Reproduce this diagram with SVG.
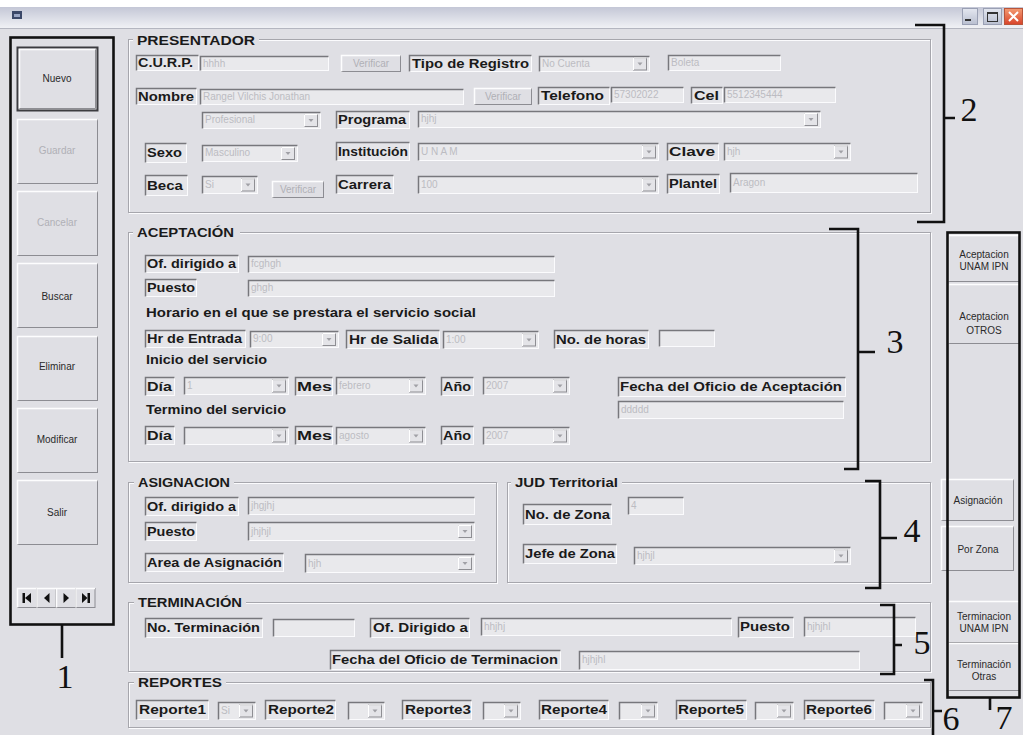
<svg xmlns="http://www.w3.org/2000/svg" width="1023" height="735" viewBox="0 0 1023 735">
<defs>
<style>
.bg{fill:#dfdfe4}
.gb{fill:none;stroke:#a6a6ac}
.gw{fill:none;stroke:#fbfbfd}
.lb{fill:#e5e5e9;stroke:#fbfbfd}
.fd{fill:#e9e9ec;stroke:#fbfbfd}
.sk{fill:none;stroke:#77777c;stroke-width:1.5}
.bn{fill:#dfdfe4;stroke:#8c8c92}
.hl{fill:none;stroke:#fdfdfe;stroke-width:1.5}
.t{font-family:"Liberation Sans",Arial,sans-serif;font-weight:bold;font-size:13.5px;fill:#1a1a1a}
.v{font-family:"Liberation Sans",Arial,sans-serif;font-size:10px;fill:#bcbcc2}
.b{font-family:"Liberation Sans",Arial,sans-serif;font-size:10px;fill:#2a2a2a;text-anchor:middle}
.d{fill:#b0b0b6}
.br{fill:none;stroke:#111;stroke-width:2.6}
.n{font-family:"Liberation Serif","DejaVu Serif",serif;font-size:34px;fill:#111;text-anchor:middle}
.nv{fill:#111}
</style>
<linearGradient id="tb" x1="0" y1="0" x2="0" y2="1"><stop offset="0" stop-color="#c4c7d6"/><stop offset="1" stop-color="#f0f1f5"/></linearGradient>
<linearGradient id="wb" x1="0" y1="0" x2="0" y2="1"><stop offset="0" stop-color="#e4e7f0"/><stop offset="1" stop-color="#b9bfd0"/></linearGradient>
<linearGradient id="cx" x1="0" y1="0" x2="0" y2="1"><stop offset="0" stop-color="#f39a72"/><stop offset="1" stop-color="#d8432a"/></linearGradient>
<g id="dd"><rect x=".5" y=".5" width="13" height="12" fill="#e4e4e8" stroke="#8e8e93"/><path d="M.5 12.5V.5H13.5" fill="none" stroke="#fff"/><path d="M4.5 5h5l-2.5 3z" fill="#a0a0a6"/></g>
</defs>

<rect class="bg" width="1023" height="735"/>
<g id="titlebar">
<rect width="1023" height="7" fill="#fff"/>
<rect y="7" width="1023" height="21" fill="url(#tb)"/>
<line x1="0" y1="28.5" x2="1023" y2="28.5" stroke="#b4b6c0"/>
<rect x="12" y="11" width="10" height="8" fill="#3b4868"/><rect x="14" y="14" width="6" height="3" fill="#9aa6c4"/>
<rect x="962.5" y="8.5" width="15" height="16" fill="url(#wb)" stroke="#9aa0b4"/><rect x="965" y="19" width="6" height="2" fill="#333"/>
<rect x="983.5" y="8.5" width="18" height="16" fill="url(#wb)" stroke="#9aa0b4"/><rect x="987.5" y="12.5" width="10" height="9" fill="none" stroke="#333"/><rect x="987" y="12" width="11" height="2" fill="#333"/>
<rect x="1004.5" y="8.5" width="18" height="16" fill="url(#cx)" stroke="#b8553a"/><path d="M1009 12l9 9M1018 12l-9 9" stroke="#fff" stroke-width="2"/>
</g>

<g id="toolbar-left">
<rect x="17.5" y="47.5" width="80" height="63" fill="#dfdfe4" stroke="#3c3c40" stroke-width="2"/><path class="hl" d="M19.5 108.5V49.5H95.5"/><path d="M95.5 49.5V108.5H19.5" fill="none" stroke="#8e8e93"/><text class="b" x="57" y="82">Nuevo</text>
<rect class="bn" x="17.5" y="119.5" width="80" height="64"/><path class="hl" d="M17.5 183.5V119.5H97.5"/><text class="b d" x="57" y="154">Guardar</text>
<rect class="bn" x="17.5" y="191.5" width="80" height="64"/><path class="hl" d="M17.5 255.5V191.5H97.5"/><text class="b d" x="57" y="226">Cancelar</text>
<rect class="bn" x="17.5" y="263.5" width="80" height="64"/><path class="hl" d="M17.5 327.5V263.5H97.5"/><text class="b" x="57" y="300">Buscar</text>
<rect class="bn" x="17.5" y="336.5" width="80" height="64"/><path class="hl" d="M17.5 400.5V336.5H97.5"/><text class="b" x="57" y="370">Eliminar</text>
<rect class="bn" x="17.5" y="408.5" width="80" height="64"/><path class="hl" d="M17.5 472.5V408.5H97.5"/><text class="b" x="57" y="443">Modificar</text>
<rect class="bn" x="17.5" y="480.5" width="80" height="64"/><path class="hl" d="M17.5 544.5V480.5H97.5"/><text class="b" x="57" y="516">Salir</text>
<rect class="bn" x="17.5" y="588.5" width="19" height="19"/><path class="hl" d="M17.5 607.5V588.5H36.5"/>
<rect class="bn" x="37" y="588.5" width="19" height="19"/><path class="hl" d="M37 607.5V588.5H56"/>
<rect class="bn" x="56.5" y="588.5" width="19" height="19"/><path class="hl" d="M56.5 607.5V588.5H75.5"/>
<rect class="bn" x="76" y="588.5" width="19" height="19"/><path class="hl" d="M76 607.5V588.5H95"/>
<rect class="nv" x="22.5" y="593" width="2.5" height="10"/><path class="nv" d="M31 593v10l-6-5z"/>
<path class="nv" d="M49.5 593v10l-5.5-5z"/>
<path class="nv" d="M63.5 593v10l5.5-5z"/>
<path class="nv" d="M82 593v10l5.5-5z"/><rect class="nv" x="87.5" y="593" width="2.5" height="10"/>
</g>

<g id="presentador">
<rect class="gw" x="129.5" y="40.5" width="802" height="173"/><rect class="gb" x="128.5" y="39.5" width="802" height="173"/>
<rect class="bg" x="133" y="32" width="126" height="14"/><text class="t" x="137" y="45" textLength="118" lengthAdjust="spacingAndGlyphs">PRESENTADOR</text>
<rect class="lb" x="136.5" y="55.5" width="62" height="15"/><path class="sk" d="M136.5 70.5V55.5H198.5"/><text class="t" x="138" y="67" textLength="55" lengthAdjust="spacingAndGlyphs">C.U.R.P.</text>
<rect class="fd" x="200.5" y="56.5" width="128" height="14"/><path class="sk" d="M200.5 70.5V56.5H328.5"/><text class="v" x="203" y="67">hhhh</text>
<rect class="bn" x="341.5" y="55.5" width="59" height="16"/><path class="hl" d="M341.5 71.5V55.5H400.5"/><text class="b d" x="371" y="67">Verificar</text>
<rect class="lb" x="409.5" y="55.5" width="122" height="16"/><path class="sk" d="M409.5 71.5V55.5H531.5"/><text class="t" x="412" y="68" textLength="117" lengthAdjust="spacingAndGlyphs">Tipo de Registro</text>
<rect class="fd" x="539.5" y="56.5" width="110" height="15"/><path class="sk" d="M539.5 71.5V56.5H649.5"/><use href="#dd" x="633" y="57.5"/><text class="v" x="542" y="67">No Cuenta</text>
<rect class="fd" x="668.5" y="55.5" width="112" height="15"/><path class="sk" d="M668.5 70.5V55.5H780.5"/><text class="v" x="671" y="66">Boleta</text>

<rect class="lb" x="136.5" y="88.5" width="60" height="16"/><path class="sk" d="M136.5 104.5V88.5H196.5"/><text class="t" x="138" y="101" textLength="56" lengthAdjust="spacingAndGlyphs">Nombre</text>
<rect class="fd" x="200.5" y="89.5" width="263" height="15"/><path class="sk" d="M200.5 104.5V89.5H463.5"/><text class="v" x="203" y="100">Rangel Vilchis Jonathan</text>
<rect class="bn" x="474.5" y="88.5" width="57" height="16"/><path class="hl" d="M474.5 104.5V88.5H531.5"/><text class="b d" x="503" y="100">Verificar</text>
<rect class="lb" x="538.5" y="87.5" width="71" height="17"/><path class="sk" d="M538.5 104.5V87.5H609.5"/><text class="t" x="541" y="100" textLength="63" lengthAdjust="spacingAndGlyphs">Telefono</text>
<rect class="fd" x="611.5" y="87.5" width="72" height="15"/><path class="sk" d="M611.5 102.5V87.5H683.5"/><text class="v" x="614" y="98">57302022</text>
<rect class="lb" x="691.5" y="87.5" width="31" height="16"/><path class="sk" d="M691.5 103.5V87.5H722.5"/><text class="t" x="694" y="100" textLength="25" lengthAdjust="spacingAndGlyphs">Cel</text>
<rect class="fd" x="724.5" y="87.5" width="111" height="15"/><path class="sk" d="M724.5 102.5V87.5H835.5"/><text class="v" x="727" y="98">5512345444</text>

<rect class="fd" x="202.5" y="112.5" width="118" height="16"/><path class="sk" d="M202.5 128.5V112.5H320.5"/><use href="#dd" x="304" y="114"/><text class="v" x="205" y="123">Profesional</text>
<rect class="lb" x="336.5" y="111.5" width="73" height="17"/><path class="sk" d="M336.5 128.5V111.5H409.5"/><text class="t" x="338" y="124" textLength="68" lengthAdjust="spacingAndGlyphs">Programa</text>
<rect class="fd" x="418.5" y="111.5" width="402" height="16"/><path class="sk" d="M418.5 127.5V111.5H820.5"/><use href="#dd" x="804" y="113"/><text class="v" x="421" y="122">hjhj</text>

<rect class="lb" x="145.5" y="143.5" width="41" height="19"/><path class="sk" d="M145.5 162.5V143.5H186.5"/><text class="t" x="147" y="157" textLength="35" lengthAdjust="spacingAndGlyphs">Sexo</text>
<rect class="fd" x="202.5" y="145.5" width="95" height="16"/><path class="sk" d="M202.5 161.5V145.5H297.5"/><use href="#dd" x="281" y="147"/><text class="v" x="205" y="156">Masculino</text>
<rect class="lb" x="336.5" y="142.5" width="73" height="18"/><path class="sk" d="M336.5 160.5V142.5H409.5"/><text class="t" x="338" y="156" textLength="70" lengthAdjust="spacingAndGlyphs">Institución</text>
<rect class="fd" x="418.5" y="143.5" width="240" height="17"/><path class="sk" d="M418.5 160.5V143.5H658.5"/><use href="#dd" x="642" y="145.5"/><text class="v" x="421" y="155">U N A M</text>
<rect class="lb" x="667.5" y="143.5" width="51" height="17"/><path class="sk" d="M667.5 160.5V143.5H718.5"/><text class="t" x="669" y="156" textLength="46" lengthAdjust="spacingAndGlyphs">Clave</text>
<rect class="fd" x="724.5" y="143.5" width="126" height="17"/><path class="sk" d="M724.5 160.5V143.5H850.5"/><use href="#dd" x="834" y="145.5"/><text class="v" x="727" y="155">hjh</text>

<rect class="lb" x="145.5" y="175.5" width="42" height="20"/><path class="sk" d="M145.5 195.5V175.5H187.5"/><text class="t" x="147" y="190" textLength="36" lengthAdjust="spacingAndGlyphs">Beca</text>
<rect class="fd" x="202.5" y="176.5" width="55" height="17"/><path class="sk" d="M202.5 193.5V176.5H257.5"/><use href="#dd" x="241" y="178.5"/><text class="v" x="205" y="188">Si</text>
<rect class="bn" x="272.5" y="181.5" width="51" height="16"/><path class="hl" d="M272.5 197.5V181.5H323.5"/><text class="b d" x="298" y="193">Verificar</text>
<rect class="lb" x="336.5" y="175.5" width="57" height="18"/><path class="sk" d="M336.5 193.5V175.5H393.5"/><text class="t" x="338" y="189" textLength="53" lengthAdjust="spacingAndGlyphs">Carrera</text>
<rect class="fd" x="418.5" y="176.5" width="240" height="17"/><path class="sk" d="M418.5 193.5V176.5H658.5"/><use href="#dd" x="642" y="178.5"/><text class="v" x="421" y="188">100</text>
<rect class="lb" x="667.5" y="174.5" width="52" height="19"/><path class="sk" d="M667.5 193.5V174.5H719.5"/><text class="t" x="669" y="188" textLength="48" lengthAdjust="spacingAndGlyphs">Plantel</text>
<rect class="fd" x="730.5" y="173.5" width="187" height="19"/><path class="sk" d="M730.5 192.5V173.5H917.5"/><text class="v" x="733" y="186">Aragon</text>
</g>

<g id="aceptacion">
<rect class="gw" x="129.5" y="233.5" width="802" height="229"/><rect class="gb" x="128.5" y="232.5" width="802" height="229"/>
<rect class="bg" x="133" y="224" width="107" height="15"/><text class="t" x="137" y="237" textLength="97" lengthAdjust="spacingAndGlyphs">ACEPTACIÓN</text>
<rect class="lb" x="145.5" y="255.5" width="93" height="17"/><path class="sk" d="M145.5 272.5V255.5H238.5"/><text class="t" x="147" y="268" textLength="89" lengthAdjust="spacingAndGlyphs">Of. dirigido a</text>
<rect class="fd" x="248.5" y="256.5" width="306" height="16"/><path class="sk" d="M248.5 272.5V256.5H554.5"/><text class="v" x="251" y="267">fcghgh</text>
<rect class="lb" x="145.5" y="279.5" width="51" height="17"/><path class="sk" d="M145.5 296.5V279.5H196.5"/><text class="t" x="147" y="292" textLength="48" lengthAdjust="spacingAndGlyphs">Puesto</text>
<rect class="fd" x="248.5" y="280.5" width="306" height="16"/><path class="sk" d="M248.5 296.5V280.5H554.5"/><text class="v" x="251" y="291">ghgh</text>
<text class="t" x="146" y="317" textLength="330" lengthAdjust="spacingAndGlyphs">Horario en el que se prestara el servicio social</text>
<rect class="lb" x="145.5" y="330.5" width="100" height="17"/><path class="sk" d="M145.5 347.5V330.5H245.5"/><text class="t" x="147" y="343" textLength="95" lengthAdjust="spacingAndGlyphs">Hr de Entrada</text>
<rect class="fd" x="250.5" y="331.5" width="88" height="16"/><path class="sk" d="M250.5 347.5V331.5H338.5"/><use href="#dd" x="322" y="333"/><text class="v" x="253" y="342">9:00</text>
<rect class="lb" x="346.5" y="330.5" width="93" height="18"/><path class="sk" d="M346.5 348.5V330.5H439.5"/><text class="t" x="349" y="344" textLength="89" lengthAdjust="spacingAndGlyphs">Hr de Salida</text>
<rect class="fd" x="443.5" y="331.5" width="95" height="17"/><path class="sk" d="M443.5 348.5V331.5H538.5"/><use href="#dd" x="522" y="333.5"/><text class="v" x="446" y="343">1:00</text>
<rect class="lb" x="554.5" y="330.5" width="94" height="18"/><path class="sk" d="M554.5 348.5V330.5H648.5"/><text class="t" x="556" y="344" textLength="90" lengthAdjust="spacingAndGlyphs">No. de horas</text>
<rect class="fd" x="659.5" y="330.5" width="55" height="16"/><path class="sk" d="M659.5 346.5V330.5H714.5"/>
<text class="t" x="146" y="364" textLength="121" lengthAdjust="spacingAndGlyphs">Inicio del servicio</text>
<rect class="lb" x="145.5" y="377.5" width="29" height="18"/><path class="sk" d="M145.5 395.5V377.5H174.5"/><text class="t" x="147" y="391" textLength="25" lengthAdjust="spacingAndGlyphs">Día</text>
<rect class="fd" x="184.5" y="377.5" width="104" height="17"/><path class="sk" d="M184.5 394.5V377.5H288.5"/><use href="#dd" x="272" y="379.5"/><text class="v" x="187" y="389">1</text>
<rect class="lb" x="295.5" y="377.5" width="37" height="18"/><path class="sk" d="M295.5 395.5V377.5H332.5"/><text class="t" x="297" y="391" textLength="35" lengthAdjust="spacingAndGlyphs">Mes</text>
<rect class="fd" x="336.5" y="377.5" width="89" height="17"/><path class="sk" d="M336.5 394.5V377.5H425.5"/><use href="#dd" x="409" y="379.5"/><text class="v" x="339" y="389">febrero</text>
<rect class="lb" x="441.5" y="377.5" width="32" height="18"/><path class="sk" d="M441.5 395.5V377.5H473.5"/><text class="t" x="443" y="391" textLength="28" lengthAdjust="spacingAndGlyphs">Año</text>
<rect class="fd" x="483.5" y="377.5" width="86" height="17"/><path class="sk" d="M483.5 394.5V377.5H569.5"/><use href="#dd" x="553" y="379.5"/><text class="v" x="486" y="389">2007</text>
<rect class="lb" x="618.5" y="377.5" width="227" height="19"/><path class="sk" d="M618.5 396.5V377.5H845.5"/><text class="t" x="620" y="391" textLength="222" lengthAdjust="spacingAndGlyphs">Fecha del  Oficio de Aceptación</text>
<rect class="fd" x="618.5" y="401.5" width="225" height="17"/><path class="sk" d="M618.5 418.5V401.5H843.5"/><text class="v" x="621" y="413">ddddd</text>
<text class="t" x="146" y="414" textLength="140" lengthAdjust="spacingAndGlyphs">Termino del servicio</text>
<rect class="lb" x="145.5" y="426.5" width="29" height="18"/><path class="sk" d="M145.5 444.5V426.5H174.5"/><text class="t" x="147" y="440" textLength="25" lengthAdjust="spacingAndGlyphs">Día</text>
<rect class="fd" x="184.5" y="427.5" width="104" height="17"/><path class="sk" d="M184.5 444.5V427.5H288.5"/><use href="#dd" x="272" y="429.5"/>
<rect class="lb" x="295.5" y="426.5" width="37" height="18"/><path class="sk" d="M295.5 444.5V426.5H332.5"/><text class="t" x="297" y="440" textLength="35" lengthAdjust="spacingAndGlyphs">Mes</text>
<rect class="fd" x="336.5" y="427.5" width="89" height="17"/><path class="sk" d="M336.5 444.5V427.5H425.5"/><use href="#dd" x="409" y="429.5"/><text class="v" x="339" y="439">agosto</text>
<rect class="lb" x="441.5" y="426.5" width="32" height="18"/><path class="sk" d="M441.5 444.5V426.5H473.5"/><text class="t" x="443" y="440" textLength="28" lengthAdjust="spacingAndGlyphs">Año</text>
<rect class="fd" x="483.5" y="427.5" width="86" height="17"/><path class="sk" d="M483.5 444.5V427.5H569.5"/><use href="#dd" x="553" y="429.5"/><text class="v" x="486" y="439">2007</text>
</g>

<g id="asignacion">
<rect class="gw" x="129.5" y="483.5" width="368" height="100"/><rect class="gb" x="128.5" y="482.5" width="368" height="100"/>
<rect class="bg" x="134" y="475" width="100" height="14"/><text class="t" x="138" y="487" textLength="92" lengthAdjust="spacingAndGlyphs">ASIGNACION</text>
<rect class="lb" x="145.5" y="497.5" width="93" height="18"/><path class="sk" d="M145.5 515.5V497.5H238.5"/><text class="t" x="147" y="511" textLength="89" lengthAdjust="spacingAndGlyphs">Of. dirigido a</text>
<rect class="fd" x="248.5" y="497.5" width="226" height="17"/><path class="sk" d="M248.5 514.5V497.5H474.5"/><text class="v" x="251" y="509">jhgjhj</text>
<rect class="lb" x="145.5" y="522.5" width="51" height="18"/><path class="sk" d="M145.5 540.5V522.5H196.5"/><text class="t" x="147" y="536" textLength="48" lengthAdjust="spacingAndGlyphs">Puesto</text>
<rect class="fd" x="248.5" y="522.5" width="226" height="18"/><path class="sk" d="M248.5 540.5V522.5H474.5"/><use href="#dd" x="458" y="525"/><text class="v" x="251" y="535">jhjhjl</text>
<rect class="lb" x="145.5" y="553.5" width="138" height="18"/><path class="sk" d="M145.5 571.5V553.5H283.5"/><text class="t" x="147" y="567" textLength="135" lengthAdjust="spacingAndGlyphs">Area de Asignación</text>
<rect class="fd" x="305.5" y="554.5" width="169" height="18"/><path class="sk" d="M305.5 572.5V554.5H474.5"/><use href="#dd" x="458" y="557"/><text class="v" x="308" y="567">hjh</text>
</g>

<g id="jud-territorial">
<rect class="gw" x="508.5" y="483.5" width="423" height="100"/><rect class="gb" x="507.5" y="482.5" width="423" height="100"/>
<rect class="bg" x="511" y="475" width="111" height="14"/><text class="t" x="515" y="487" textLength="103" lengthAdjust="spacingAndGlyphs">JUD Territorial</text>
<rect class="lb" x="523.5" y="504.5" width="88" height="20"/><path class="sk" d="M523.5 524.5V504.5H611.5"/><text class="t" x="525" y="519" textLength="85" lengthAdjust="spacingAndGlyphs">No. de Zona</text>
<rect class="fd" x="628.5" y="497.5" width="55" height="17"/><path class="sk" d="M628.5 514.5V497.5H683.5"/><text class="v" x="631" y="509">4</text>
<rect class="lb" x="523.5" y="544.5" width="93" height="19"/><path class="sk" d="M523.5 563.5V544.5H616.5"/><text class="t" x="525" y="558" textLength="90" lengthAdjust="spacingAndGlyphs">Jefe de Zona</text>
<rect class="fd" x="634.5" y="547.5" width="216" height="17"/><path class="sk" d="M634.5 564.5V547.5H850.5"/><use href="#dd" x="834" y="549.5"/><text class="v" x="637" y="559">hjhjl</text>
</g>

<g id="terminacion">
<rect class="gw" x="129.5" y="603.5" width="802" height="69"/><rect class="gb" x="128.5" y="602.5" width="802" height="69"/>
<rect class="bg" x="134" y="594" width="112" height="15"/><text class="t" x="138" y="607" textLength="104" lengthAdjust="spacingAndGlyphs">TERMINACIÓN</text>
<rect class="lb" x="145.5" y="618.5" width="117" height="19"/><path class="sk" d="M145.5 637.5V618.5H262.5"/><text class="t" x="147" y="632" textLength="113" lengthAdjust="spacingAndGlyphs">No. Terminación</text>
<rect class="fd" x="273.5" y="619.5" width="81" height="17"/><path class="sk" d="M273.5 636.5V619.5H354.5"/>
<rect class="lb" x="370.5" y="618.5" width="99" height="19"/><path class="sk" d="M370.5 637.5V618.5H469.5"/><text class="t" x="373" y="632" textLength="95" lengthAdjust="spacingAndGlyphs">Of. Dirigido a</text>
<rect class="fd" x="481.5" y="618.5" width="250" height="17"/><path class="sk" d="M481.5 635.5V618.5H731.5"/><text class="v" x="484" y="630">hhjhj</text>
<rect class="lb" x="738.5" y="617.5" width="55" height="20"/><path class="sk" d="M738.5 637.5V617.5H793.5"/><text class="t" x="740" y="631" textLength="50" lengthAdjust="spacingAndGlyphs">Puesto</text>
<rect class="fd" x="804.5" y="617.5" width="111" height="19"/><path class="sk" d="M804.5 636.5V617.5H915.5"/><text class="v" x="807" y="630">hjhjhl</text>
<rect class="lb" x="330.5" y="650.5" width="230" height="19"/><path class="sk" d="M330.5 669.5V650.5H560.5"/><text class="t" x="332" y="664" textLength="226" lengthAdjust="spacingAndGlyphs">Fecha del Oficio de Terminacion</text>
<rect class="fd" x="579.5" y="651.5" width="280" height="18"/><path class="sk" d="M579.5 669.5V651.5H859.5"/><text class="v" x="582" y="663">hjhjhl</text>
</g>

<g id="reportes">
<rect class="gw" x="129.5" y="683.5" width="802" height="45"/><rect class="gb" x="128.5" y="682.5" width="802" height="45"/>
<rect class="bg" x="134" y="675" width="92" height="14"/><text class="t" x="138" y="687" textLength="84" lengthAdjust="spacingAndGlyphs">REPORTES</text>
<rect class="lb" x="136.5" y="700.5" width="72" height="19"/><path class="sk" d="M136.5 719.5V700.5H208.5"/><text class="t" x="139" y="714" textLength="67" lengthAdjust="spacingAndGlyphs">Reporte1</text>
<rect class="fd" x="218.5" y="702.5" width="37" height="17"/><path class="sk" d="M218.5 719.5V702.5H255.5"/><use href="#dd" x="239" y="704.5"/><text class="v" x="221" y="714">Si</text>
<rect class="lb" x="265.5" y="700.5" width="70" height="19"/><path class="sk" d="M265.5 719.5V700.5H335.5"/><text class="t" x="268" y="714" textLength="66" lengthAdjust="spacingAndGlyphs">Reporte2</text>
<rect class="fd" x="348.5" y="702.5" width="36" height="17"/><path class="sk" d="M348.5 719.5V702.5H384.5"/><use href="#dd" x="368" y="704.5"/>
<rect class="lb" x="402.5" y="700.5" width="69" height="19"/><path class="sk" d="M402.5 719.5V700.5H471.5"/><text class="t" x="405" y="714" textLength="66" lengthAdjust="spacingAndGlyphs">Reporte3</text>
<rect class="fd" x="483.5" y="702.5" width="37" height="17"/><path class="sk" d="M483.5 719.5V702.5H520.5"/><use href="#dd" x="504" y="704.5"/>
<rect class="lb" x="539.5" y="700.5" width="69" height="19"/><path class="sk" d="M539.5 719.5V700.5H608.5"/><text class="t" x="541" y="714" textLength="66" lengthAdjust="spacingAndGlyphs">Reporte4</text>
<rect class="fd" x="619.5" y="702.5" width="38" height="17"/><path class="sk" d="M619.5 719.5V702.5H657.5"/><use href="#dd" x="641" y="704.5"/>
<rect class="lb" x="676.5" y="700.5" width="70" height="19"/><path class="sk" d="M676.5 719.5V700.5H746.5"/><text class="t" x="678" y="714" textLength="66" lengthAdjust="spacingAndGlyphs">Reporte5</text>
<rect class="fd" x="755.5" y="702.5" width="38" height="17"/><path class="sk" d="M755.5 719.5V702.5H793.5"/><use href="#dd" x="777" y="704.5"/>
<rect class="lb" x="804.5" y="700.5" width="70" height="19"/><path class="sk" d="M804.5 719.5V700.5H874.5"/><text class="t" x="806" y="714" textLength="66" lengthAdjust="spacingAndGlyphs">Reporte6</text>
<rect class="fd" x="884.5" y="702.5" width="38" height="17"/><path class="sk" d="M884.5 719.5V702.5H922.5"/><use href="#dd" x="906" y="704.5"/>
</g>

<g id="toolbar-right">
<rect class="bn" x="948.5" y="235.5" width="71" height="46"/><path class="hl" d="M948.5 281.5V235.5H1019.5"/><text class="b" x="984" y="258">Aceptacion</text><text class="b" x="984" y="270">UNAM IPN</text>
<rect class="bn" x="948.5" y="284.5" width="71" height="59"/><path class="hl" d="M948.5 343.5V284.5H1019.5"/><text class="b" x="984" y="320">Aceptacion</text><text class="b" x="984" y="334">OTROS</text>
<rect class="bn" x="941.5" y="479.5" width="72" height="41"/><path class="hl" d="M941.5 520.5V479.5H1013.5"/><text class="b" x="978" y="504">Asignación</text>
<rect class="bn" x="941.5" y="526.5" width="72" height="44"/><path class="hl" d="M941.5 570.5V526.5H1013.5"/><text class="b" x="978" y="553">Por Zona</text>
<rect class="bn" x="948.5" y="601.5" width="71" height="41"/><path class="hl" d="M948.5 642.5V601.5H1019.5"/><text class="b" x="984" y="620">Terminacion</text><text class="b" x="984" y="632">UNAM IPN</text>
<rect class="bn" x="948.5" y="643.5" width="71" height="47"/><path class="hl" d="M948.5 690.5V643.5H1019.5"/><text class="b" x="984" y="668">Terminación</text><text class="b" x="984" y="680">Otras</text>
</g>

<g id="annotations">
<rect class="br" x="10.5" y="37.5" width="103" height="587" stroke-width="3"/>
<path class="br" d="M62 625V658"/><text class="n" x="65" y="688">1</text>
<path class="br" d="M915 25H944V222H917M944 118H955"/><text class="n" x="969" y="121">2</text>
<path class="br" d="M829 229H858V469H844M858 352H875"/><text class="n" x="895" y="353">3</text>
<path class="br" d="M865 481H880V588H865M880 538H897"/><text class="n" x="912" y="542">4</text>
<path class="br" d="M880 605H894V674H880M894 645H902"/><text class="n" x="922" y="654">5</text>
<path class="br" d="M924 680H933V735M933 711H942"/><text class="n" x="951" y="730">6</text>
<rect class="br" x="947.5" y="232.5" width="72" height="465"/>
<path class="br" d="M990 698V710"/><text class="n" x="1004" y="729">7</text>
</g>
</svg>
